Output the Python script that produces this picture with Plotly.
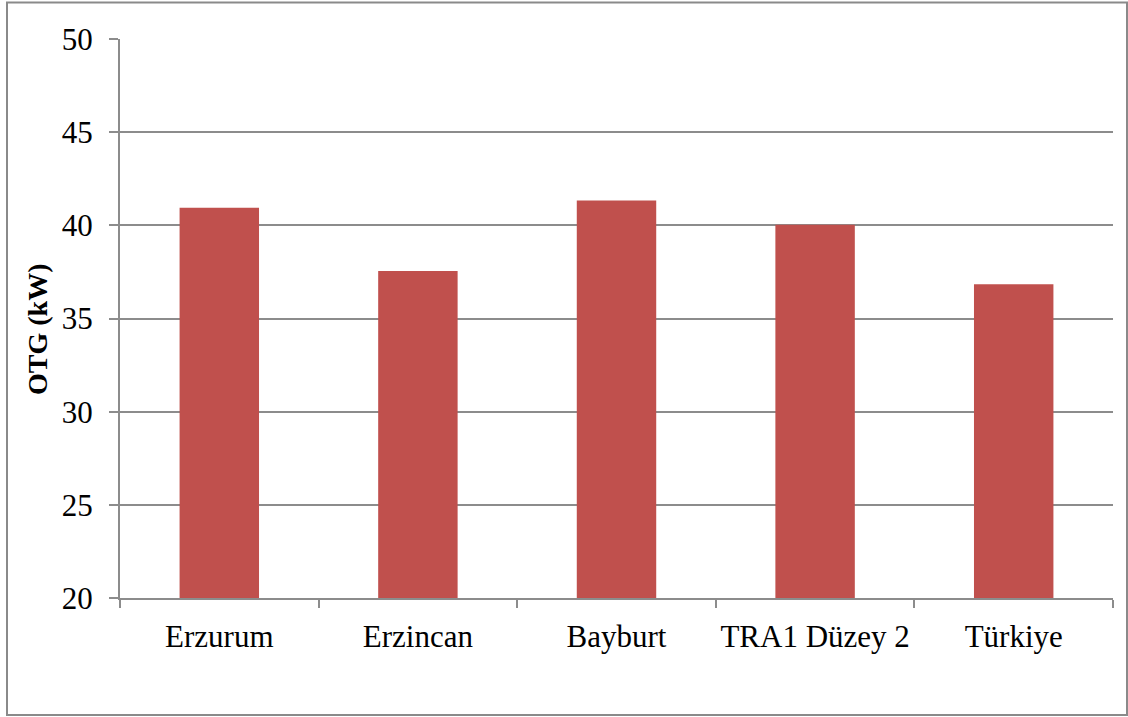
import plotly.graph_objects as go

# OTG values by region (kW)
regions = ["Erzurum", "Erzincan", "Bayburt", "TRA1 Düzey 2", "Türkiye"]
otg_kw = [40.95, 37.55, 41.33, 40.03, 36.84]

y_ticks = [20, 25, 30, 35, 40, 45, 50]

W, H = 1128, 717
ML, MR, MT, MB = 120, 15, 39, 119
pw, ph = W - ML - MR, H - MT - MB

grid_col = "#8c8c8c"
font_family = "Liberation Serif"

fig = go.Figure(
    go.Bar(
        x=regions,
        y=otg_kw,
        marker=dict(color="#C0504D", line=dict(width=0)),
        width=0.4,
    )
)

fig.update_layout(
    width=W,
    height=H,
    margin=dict(l=ML, r=MR, t=MT, b=MB, autoexpand=False),
    paper_bgcolor="white",
    plot_bgcolor="white",
    showlegend=False,
    font=dict(family=font_family, size=31, color="black"),
    xaxis=dict(
        type="category",
        showgrid=False,
        showline=True,
        linecolor=grid_col,
        linewidth=2,
        ticks="outside",
        tickson="boundaries",
        ticklen=8,
        tickwidth=2,
        tickcolor=grid_col,
        ticklabelstandoff=10,
        tickangle=0,
        automargin=False,
        tickfont=dict(size=31, family=font_family),
        range=[-0.5, 4.5],
    ),
    yaxis=dict(
        range=[20, 50],
        tickvals=y_ticks,
        showgrid=True,
        gridcolor=grid_col,
        gridwidth=2,
        showline=True,
        linecolor=grid_col,
        linewidth=2,
        ticks="outside",
        ticklen=9,
        tickwidth=2,
        tickcolor=grid_col,
        ticklabelstandoff=10,
        automargin=False,
        tickfont=dict(size=31, family=font_family),
        zeroline=False,
    ),
    shapes=[
        dict(
            type="rect",
            xref="paper",
            yref="paper",
            x0=(7 - ML) / pw,
            x1=(1127 - ML) / pw,
            y0=(H - MB - 715) / ph,
            y1=(H - MB - 2.5) / ph,
            line=dict(color="#8a8a8a", width=2),
            fillcolor="rgba(0,0,0,0)",
            layer="below",
        )
    ],
    annotations=[
        dict(
            text="<b>OTG (kW)</b>",
            xref="paper",
            yref="paper",
            x=(37 - ML) / pw,
            y=(H - MB - 330) / ph,
            textangle=-90,
            showarrow=False,
            font=dict(size=28, family=font_family, color="black"),
            xanchor="center",
            yanchor="middle",
        )
    ],
)

fig.write_html("out.html")
